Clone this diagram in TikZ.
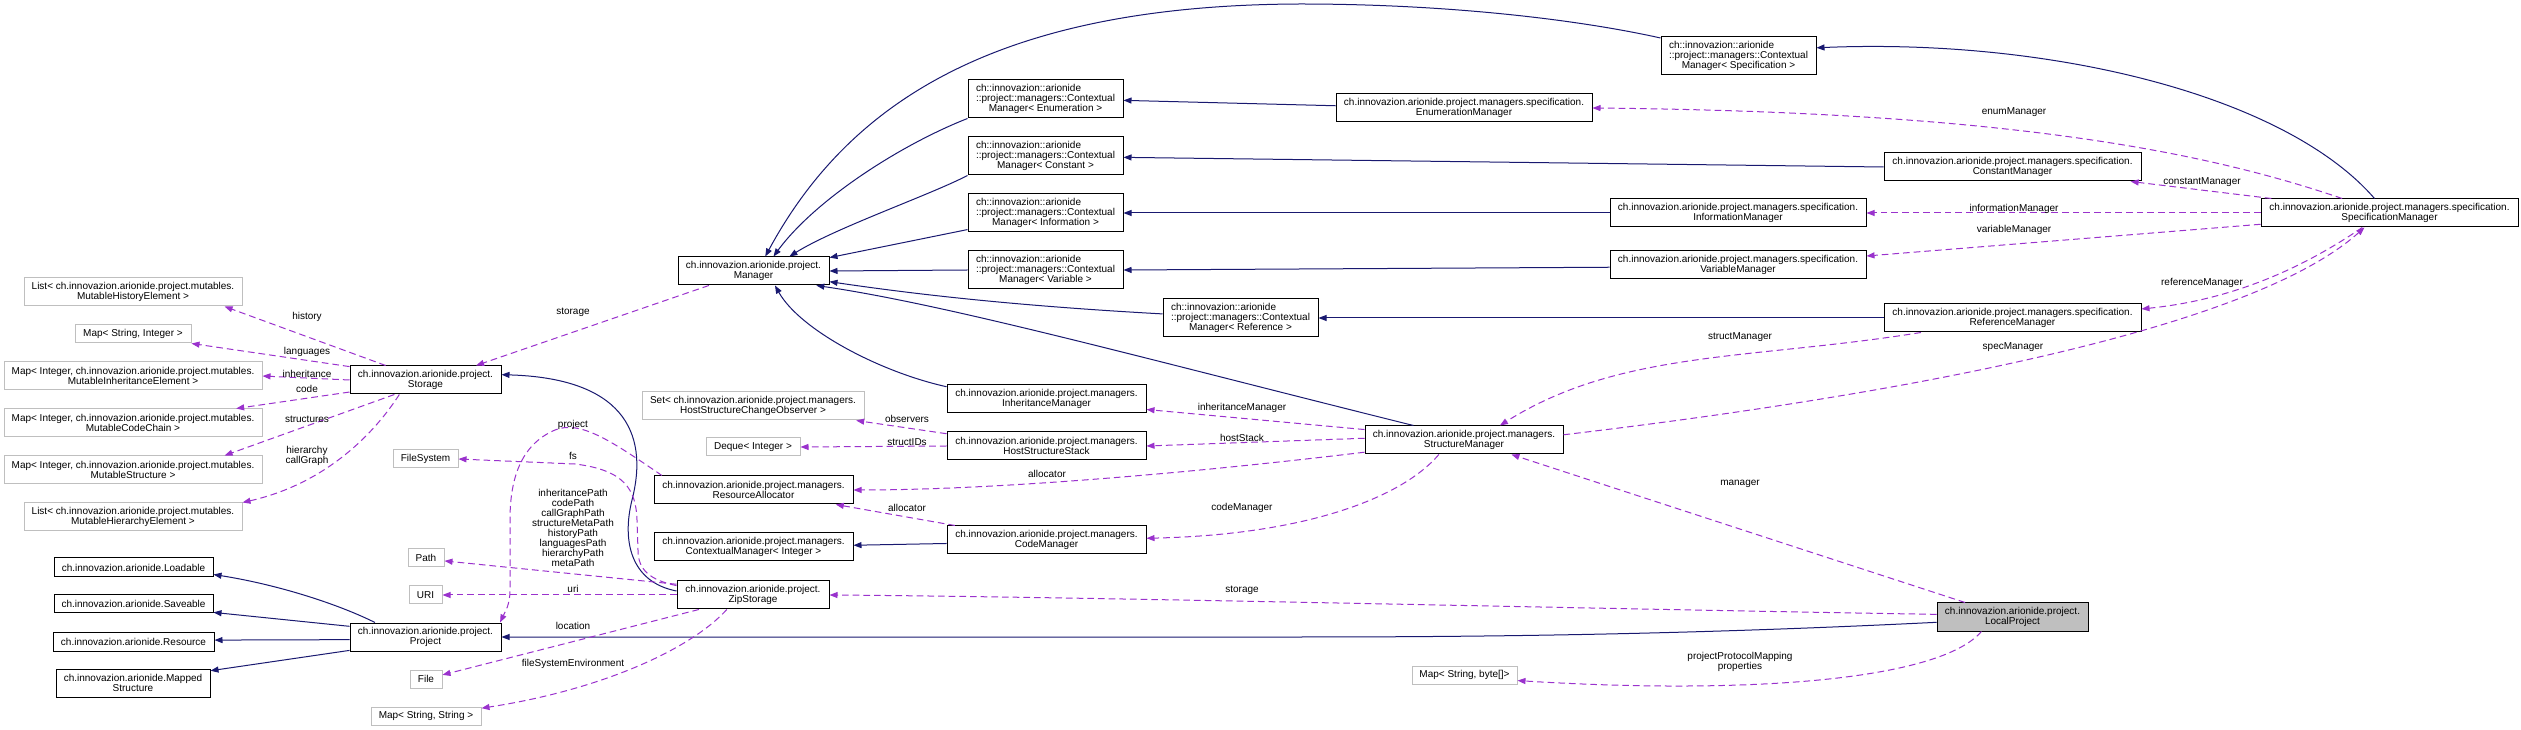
\documentclass[tikz,border=0pt]{standalone}
\usepackage{fontspec}
\setmainfont{Liberation Sans}
\usetikzlibrary{arrows.meta}
\definecolor{navy}{RGB}{25,25,112}
\definecolor{depcol}{RGB}{154,50,205}
\definecolor{extgray}{RGB}{191,191,191}
\newcommand\cmtext[1]{\setbox0=\hbox{::project::managers::Contextual}\makebox[\wd0][l]{ch::innovazion::arionide}\\::project::managers::Contextual\\Manager< #1 >}
\begin{document}
\begin{tikzpicture}[x=0.75pt,y=-0.75pt,
  every node/.style={font=\fontsize{7.5pt}{7.5pt}\selectfont},
  cls/.style={draw=black, line width=0.75pt, fill=white, inner sep=0pt, align=center},
  ext/.style={cls, draw=extgray},
  sel/.style={cls, fill=extgray},
  sz/.style 2 args={minimum width=#1*0.75pt, minimum height=#2*0.75pt},
  inh/.style={draw=navy, line width=0.75pt, -{Triangle[length=6pt,width=4.5pt]}},
  use/.style={draw=depcol, line width=0.75pt, dash pattern=on 5pt off 3pt, -{Triangle[length=6pt,width=4.5pt]}},
  lbl/.style={inner sep=0pt, align=center}]
\useasboundingbox (0,0) rectangle (2521,730);
\fill[white] (0,0) rectangle (2521,730);

% ---------- nodes ----------
\node[ext, sz={218}{28}] (histList) at (133,292) {List< ch.innovazion.arionide.project.mutables.\\MutableHistoryElement >};
\node[ext, sz={116}{18}] (mapSI) at (133,334) {Map< String, Integer >};
\node[ext, sz={258}{28}] (mapInh) at (133,376) {Map< Integer, ch.innovazion.arionide.project.mutables.\\MutableInheritanceElement >};
\node[ext, sz={258}{28}] (mapCode) at (133,423) {Map< Integer, ch.innovazion.arionide.project.mutables.\\MutableCodeChain >};
\node[ext, sz={258}{28}] (mapStruct) at (133,470) {Map< Integer, ch.innovazion.arionide.project.mutables.\\MutableStructure >};
\node[ext, sz={218}{28}] (hierList) at (133,517) {List< ch.innovazion.arionide.project.mutables.\\MutableHierarchyElement >};
\node[cls, sz={151}{28}] (storage) at (425.5,380) {ch.innovazion.arionide.project.\\Storage};
\node[cls, sz={159}{19}] (loadable) at (133.5,567.5) {ch.innovazion.arionide.Loadable};
\node[cls, sz={159}{18}] (saveable) at (133.5,604) {ch.innovazion.arionide.Saveable};
\node[cls, sz={161}{19}] (resource) at (133.5,641.5) {ch.innovazion.arionide.Resource};
\node[cls, sz={154}{28}] (mapped) at (133,683) {ch.innovazion.arionide.Mapped\\Structure};
\node[cls, sz={151}{28}] (project) at (425.5,637) {ch.innovazion.arionide.project.\\Project};
\node[ext, sz={65}{18}] (fileSystem) at (425.5,459) {FileSystem};
\node[ext, sz={36}{18}] (path) at (426,558) {Path};
\node[ext, sz={33}{18}] (uri) at (425.5,595) {URI};
\node[ext, sz={32}{18}] (file) at (426,679) {File};
\node[ext, sz={110}{18}] (mapSS) at (426,716) {Map< String, String >};
\node[cls, sz={151}{28}] (manager) at (753.5,271) {ch.innovazion.arionide.project.\\Manager};
\node[cls, sz={155}{38}] (cmEnum) at (1045.5,99) {\cmtext{Enumeration}};
\node[cls, sz={155}{38}] (cmConst) at (1045.5,156) {\cmtext{Constant}};
\node[cls, sz={155}{38}] (cmInfo) at (1045.5,213) {\cmtext{Information}};
\node[cls, sz={155}{38}] (cmVar) at (1045.5,270) {\cmtext{Variable}};
\node[cls, sz={155}{38}] (cmSpec) at (1738.5,56) {\cmtext{Specification}};
\node[cls, sz={155}{38}] (cmRef) at (1240.5,318) {\cmtext{Reference}};
\node[cls, sz={256}{28}] (enumMgr) at (1464,108) {ch.innovazion.arionide.project.managers.specification.\\EnumerationManager};
\node[cls, sz={257}{28}] (constMgr) at (2012.5,167) {ch.innovazion.arionide.project.managers.specification.\\ConstantManager};
\node[cls, sz={256}{28}] (infoMgr) at (1738,213) {ch.innovazion.arionide.project.managers.specification.\\InformationManager};
\node[cls, sz={256}{28}] (varMgr) at (1738,265) {ch.innovazion.arionide.project.managers.specification.\\VariableManager};
\node[cls, sz={257}{28}] (refMgr) at (2012.5,318) {ch.innovazion.arionide.project.managers.specification.\\ReferenceManager};
\node[cls, sz={257}{28}] (specMgr) at (2389.5,213) {ch.innovazion.arionide.project.managers.specification.\\SpecificationManager};
\node[ext, sz={222}{28}] (setObs) at (753,406) {Set< ch.innovazion.arionide.project.managers.\\HostStructureChangeObserver >};
\node[cls, sz={199}{28}] (inhMgr) at (1046.5,399) {ch.innovazion.arionide.project.managers.\\InheritanceManager};
\node[cls, sz={199}{28}] (hss) at (1046.5,446) {ch.innovazion.arionide.project.managers.\\HostStructureStack};
\node[ext, sz={94}{18}] (deque) at (753,447) {Deque< Integer >};
\node[cls, sz={199}{28}] (resAlloc) at (753.5,490) {ch.innovazion.arionide.project.managers.\\ResourceAllocator};
\node[cls, sz={199}{28}] (cmInt) at (753.5,547) {ch.innovazion.arionide.project.managers.\\ContextualManager< Integer >};
\node[cls, sz={199}{28}] (codeMgr) at (1046.5,540) {ch.innovazion.arionide.project.managers.\\CodeManager};
\node[cls, sz={152}{28}] (zip) at (753,595) {ch.innovazion.arionide.project.\\ZipStorage};
\node[cls, sz={198}{28}] (structMgr) at (1464,440) {ch.innovazion.arionide.project.managers.\\StructureManager};
\node[sel, sz={151}{28}] (localProj) at (2012.5,617) {ch.innovazion.arionide.project.\\LocalProject};
\node[ext, sz={105}{18}] (mapSB) at (1464.5,675) {Map< String, byte[]>};

% ---------- inheritance ----------
\draw[inh] (project.164) .. controls (340,605) and (280,585) .. (loadable.-5);
\draw[inh] (project.172) -- (saveable.-6);
\draw[inh] (project.182) -- (resource.1);
\draw[inh] (project.190) -- (mapped.9);
\draw[inh] (zip.177) .. controls (630,582) and (622,540) .. (632,500) .. controls (650,430) and (620,378) .. (storage.4);
\draw[inh] (localProj.184) .. controls (1700,634) and (1500,637) .. (1300,637) -- (project.east);
\draw[inh] (cmEnum.south west) .. controls (900,145) and (815,200) .. (manager.36);
\draw[inh] (cmConst.south west) .. controls (930,195) and (835,228) .. (manager.22);
\draw[inh] (cmInfo.192) -- (manager.10);
\draw[inh] (cmVar.west) -- (manager.east);
\draw[inh] (cmSpec.167) .. controls (1580,20) and (1450,4) .. (1300,4) .. controls (1000,5) and (850,100) .. (manager.51);
\draw[inh] (cmRef.177) .. controls (1000,305) and (900,292) .. (manager.-8);
\draw[inh] (inhMgr.173) .. controls (880,372) and (800,330) .. (manager.-34);
\draw[inh] (structMgr.164) .. controls (1150,360) and (950,305) .. (manager.-13);
\draw[inh] (enumMgr.179) -- (cmEnum.-1);
\draw[inh] (constMgr.west) -- (cmConst.-1);
\draw[inh] (infoMgr.west) -- (cmInfo.east);
\draw[inh] (varMgr.181) -- (cmVar.east);
\draw[inh] (refMgr.west) -- (cmRef.east);
\draw[inh] (specMgr.136) .. controls (2285,95) and (2050,38) .. (cmSpec.6);
\draw[inh] (codeMgr.182) -- (cmInt.1);

% ---------- usage ----------
\draw[use] (storage.160) -- (histList.-9);
\draw[use] (storage.170) -- (mapSI.south east);
\draw[use] (storage.west) -- (mapInh.east);
\draw[use] (storage.189) -- (mapCode.8);
\draw[use] (storage.205) -- (mapStruct.9);
\draw[use] (storage.209) .. controls (370,440) and (320,485) .. (hierList.north east);
\draw[use] (manager.198) -- (storage.16);
\draw[use] (resAlloc.171) .. controls (610,440) and (580,420) .. (555,430) .. controls (520,445) and (510,480) .. (510,520) -- (510,590) .. controls (510,605) and (505,612) .. (project.11);
\draw[use] (zip.173) .. controls (650,580) and (638,570) .. (638,550) -- (637,520) .. controls (636,490) and (625,470) .. (575,464) -- (fileSystem.east);
\draw[use] (zip.172) -- (path.-9);
\draw[use] (zip.west) -- (uri.east);
\draw[use] (zip.195) -- (file.14);
\draw[use] (zip.209) .. controls (690,650) and (600,690) .. (mapSS.8);
\draw[use] (hss.173) -- (setObs.-8);
\draw[use] (hss.west) -- (deque.east);
\draw[use] (codeMgr.171) -- (resAlloc.-10);
\draw[use] (structMgr.174) -- (inhMgr.-6);
\draw[use] (structMgr.179) -- (hss.east);
\draw[use] (structMgr.187) .. controls (1200,472) and (1000,490) .. (resAlloc.east);
\draw[use] (structMgr.210) .. controls (1400,500) and (1300,535) .. (codeMgr.1);
\draw[use] (structMgr.3) .. controls (1900,395) and (2250,330) .. (specMgr.210);
\draw[use] (refMgr.189) .. controls (1750,360) and (1620,350) .. (structMgr.22);
\draw[use] (specMgr.163) .. controls (2200,150) and (2000,112) .. (enumMgr.0);
\draw[use] (specMgr.173) -- (constMgr.-7);
\draw[use] (specMgr.west) -- (infoMgr.east);
\draw[use] (specMgr.185) -- (varMgr.4);
\draw[use] (specMgr.208) .. controls (2300,270) and (2230,300) .. (refMgr.4);
\draw[use] (localProj.163) -- (structMgr.-17);
\draw[use] (localProj.178) .. controls (1600,609) and (1100,597) .. (zip.east);
\draw[use] (localProj.205) .. controls (1940,680) and (1750,695) .. (mapSB.-6);

% ---------- labels ----------
\node[lbl] (lHistory) at (307,317) {history};
\node[lbl] (lLanguages) at (307,352) {languages};
\node[lbl] (lInheritance) at (307,374) {inheritance};
\node[lbl] (lCode) at (307,389) {code};
\node[lbl] (lStructures) at (307,419) {structures};
\node[lbl] (lHierarchy) at (307,456) {hierarchy\\callGraph};
\node[lbl] (lStorage) at (573,312) {storage};
\node[lbl] (lProject) at (573,425) {project};
\node[lbl] (lFs) at (573,456) {fs};
\node[lbl] (lPaths) at (573,528) {inheritancePath\\codePath\\callGraphPath\\structureMetaPath\\historyPath\\languagesPath\\hierarchyPath\\metaPath};
\node[lbl] (lUri) at (573,589) {uri};
\node[lbl] (lLocation) at (573,626) {location};
\node[lbl] (lFse) at (573,664) {fileSystemEnvironment};
\node[lbl] (lObservers) at (907,419) {observers};
\node[lbl] (lStructIDs) at (907,442) {structIDs};
\node[lbl] (lAllocator) at (907,508) {allocator};
\node[lbl] (lInhMgr) at (1242,408) {inheritanceManager};
\node[lbl] (lHostStack) at (1242,438) {hostStack};
\node[lbl] (lAllocator2) at (1047,474) {allocator};
\node[lbl] (lCodeMgr) at (1242,508) {codeManager};
\node[lbl] (lEnum) at (2014,112) {enumManager};
\node[lbl] (lConst) at (2202,182) {constantManager};
\node[lbl] (lInfo) at (2014,209) {informationManager};
\node[lbl] (lVar) at (2014,230) {variableManager};
\node[lbl] (lRef) at (2202,283) {referenceManager};
\node[lbl] (lStruct) at (1740,337) {structManager};
\node[lbl] (lSpec) at (2013,347) {specManager};
\node[lbl] (lManager) at (1740,484) {manager};
\node[lbl] (lStorage2) at (1242,590) {storage};
\node[lbl] (lPpm) at (1740,662) {projectProtocolMapping\\properties};
\end{tikzpicture}
\end{document}
